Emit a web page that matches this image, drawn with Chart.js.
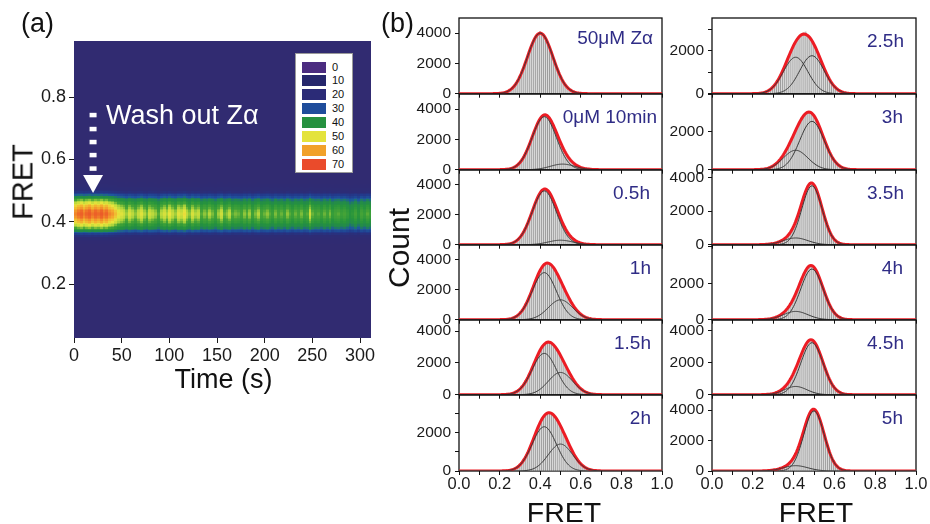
<!DOCTYPE html>
<html><head><meta charset="utf-8"><title>FRET histograms</title>
<script src="https://cdn.jsdelivr.net/npm/chart.js@4.4.1/dist/chart.umd.min.js"></script>
<style>
html,body{margin:0;padding:0;background:#fff;}
body{position:relative;width:930px;height:524px;overflow:hidden;font-family:"Liberation Sans",Arial,sans-serif;}
canvas{position:absolute;left:0;top:0;}
.t{position:absolute;white-space:nowrap;line-height:1;z-index:3;color:#111;}
.rot{transform:translate(-50%,-50%) rotate(-90deg);}
.ann{color:#2f2c86;font-size:19px;}
#legend{position:absolute;left:295px;top:53px;width:58px;height:120px;box-sizing:border-box;border:1px solid #9a9a9a;background:#fff;z-index:3;}
#legend .sw{position:absolute;left:6px;width:24px;height:11px;}
#legend .lb{position:absolute;left:36px;font-size:11px;line-height:11px;color:#111;}
</style></head><body>
<script>
// ---------------- DATA ----------------
// (a) heat map: band intensity per 3 s column and relative FRET profile of the band
const heatColumnSeconds = 3;
const heatPeak = [66,69,71,67,70,72,68,71,69,72,68,70,66,64,
  60,56,54,
  52,48,53,50,47,51,54,49,46,52,50,48,44,
  50,53,49,55,51,48,54,52,56,50,47,53,49,51,
  44,47,45,49,46,43,48,52,45,47,50,44,46,
  45,43,47,44,48,42,46,49,43,45,47,44,41,
  46,43,45,42,47,44,41,45,43,46,42,44,52,
  45,43,44,41,45,42,46,40,43,44,41,43,40,
  36,38,42,37,43,40,44,41];
const heatFretStart = 0.320, heatFretStep = 0.005;
const heatProfile = [.01,.01,.02,.03,.04,.06,.10,.16,.25,.36,.47,.57,.65,.71,.76,.81,.86,.90,.94,.97,.99,
  1.00,.99,.97,.94,.90,.86,.81,.76,.71,.65,.57,.47,.37,.27,.19,.14,.11,.09,.07,.06,.05,.04];
const heatLevels = [0,10,20,30,40,50,60,70];
const heatLevelColors = ['#4b2c80','#26276c','#2b2b77','#1f4d9b','#25913f','#e4e33b','#f1a12a','#ea4b2b'];
const heatXTicks = [0,50,100,150,200,250,300];
const heatYTicks = [0.2,0.4,0.6,0.8];
const washTime = 20;

// (b) FRET histograms, bins of 0.01 centred at 0.20 ... 0.66
const binStart = 0.20, binStep = 0.01;
const hist50uM    = [30,45,64,110,152,240,330,490,640,880,1150,1420,1810,2130,2580,2890,3300,3540,3850,3930,4120,3900,3840,3530,3300,2880,2570,2130,1800,1420,1150,860,660,470,345,230,162,100,70,40,28,15,9,5,3,2,1];
const hist0uM10min= [5,8,14,25,37,66,96,160,225,345,465,660,860,1150,1430,1800,2120,2520,2810,3160,3360,3560,3720,3580,3520,3290,3080,2740,2470,2100,1820,1490,1250,990,810,620,500,370,290,210,162,112,85,56,40,25,17];
const hist05h     = [4,9,13,26,38,68,98,165,230,352,480,690,880,1190,1470,1860,2180,2600,2900,3260,3460,3690,3760,3680,3610,3360,3150,2780,2490,2100,1800,1440,1200,920,740,545,425,300,232,158,118,78,56,36,25,15,10];
const hist1h      = [4,7,13,20,37,55,94,135,215,300,440,590,815,1030,1350,1630,2020,2330,2730,3000,3340,3520,3730,3760,3830,3690,3610,3380,3190,2880,2650,2310,2060,1740,1510,1230,1030,800,645,480,372,262,195,130,92,58,40];
const hist15h     = [3,7,10,18,27,50,70,120,168,260,350,505,650,890,1090,1400,1640,2000,2250,2590,2780,3060,3150,3330,3400,3310,3180,3100,2870,2720,2450,2250,1950,1740,1460,1250,1005,835,640,510,372,282,195,143,93,64,40];
const hist2h      = [3,6,9,16,24,44,64,106,148,230,310,445,580,790,970,1250,1470,1780,2010,2320,2500,2760,2850,3010,3060,3000,2990,2830,2740,2520,2370,2100,1920,1640,1450,1190,1015,795,650,490,380,272,200,136,96,62,41];
const hist25h     = [4,7,12,18,33,47,78,110,170,230,335,430,595,740,950,1130,1390,1580,1850,2030,2280,2400,2600,2660,2790,2850,2900,2680,2620,2450,2310,2080,1890,1630,1420,1170,980,765,610,455,345,240,175,115,80,50,32];
const hist3h      = [2,4,8,10,20,27,48,68,108,145,215,278,390,485,650,775,990,1150,1410,1590,1870,2050,2340,2500,2750,2850,3010,3020,3090,2950,2880,2650,2470,2170,1930,1600,1360,1060,865,635,490,345,252,165,114,71,47];
const hist35h     = [1,2,3,5,7,12,17,28,36,56,72,108,138,190,236,318,395,525,655,865,1070,1390,1690,2100,2450,2890,3180,3510,3600,3720,3530,3360,2970,2620,2140,1750,1310,1000,690,485,310,200,118,70,38,22,11];
const hist4h      = [1,2,3,5,9,12,21,29,45,64,95,122,175,222,305,378,500,610,790,950,1190,1400,1700,1940,2260,2470,2750,2860,3000,2940,2900,2690,2500,2170,1900,1540,1270,960,745,530,385,255,172,106,70,39,23];
const hist45h     = [1,1,1,2,4,8,12,22,30,55,75,118,158,230,300,420,530,710,870,1120,1340,1660,1930,2300,2570,2920,3100,3380,3410,3470,3300,3160,2840,2570,2160,1830,1440,1150,840,630,435,305,195,130,78,48,27];
const hist5h      = [1,1,2,4,7,9,16,22,35,45,68,85,122,150,205,250,330,405,540,670,890,1120,1460,1790,2260,2650,3140,3480,3860,3980,4120,3940,3740,3310,2930,2400,1960,1470,1120,775,545,345,225,130,80,42,24];

// Gaussian fit components [amplitude, centre FRET, sigma]
const fit50uM     = [[4000,0.40,0.063]];
const fit0uM10min = [[3500,0.42,0.06],[370,0.51,0.06]];
const fit05h      = [[3600,0.42,0.06],[300,0.50,0.06]];
const fit1h       = [[3150,0.42,0.06],[1330,0.50,0.06]];
const fit15h      = [[2600,0.42,0.06],[1400,0.50,0.06]];
const fit2h       = [[2300,0.42,0.06],[1400,0.50,0.06]];
const fit25h      = [[1700,0.41,0.06],[1770,0.49,0.06]];
const fit3h       = [[2560,0.49,0.06],[1030,0.41,0.06]];
const fit35h      = [[3500,0.49,0.05],[400,0.41,0.06]];
const fit4h       = [[2780,0.49,0.055],[455,0.41,0.06]];
const fit45h      = [[3250,0.49,0.055],[515,0.41,0.055]];
const fit5h       = [[3950,0.50,0.05],[350,0.41,0.06]];

const panelNames = ['50μM Zα','0μM 10min','0.5h','1h','1.5h','2h','2.5h','3h','3.5h','4h','4.5h','5h'];
const panelYMax  = [5000,5000,5000,5000,4700,3950,3530,4010,4440,4100,4670,5000];
const histXTicks = [0,0.1,0.2,0.3,0.4,0.5,0.6,0.7,0.8,0.9,1.0];
const histYTicks = [0,1000,2000,3000,4000,5000];

const histAll = [hist50uM,hist0uM10min,hist05h,hist1h,hist15h,hist2h,hist25h,hist3h,hist35h,hist4h,hist45h,hist5h];
const fitAll  = [fit50uM,fit0uM10min,fit05h,fit1h,fit15h,fit2h,fit25h,fit3h,fit35h,fit4h,fit45h,fit5h];

// ---------------- RENDERING ----------------
const FONT = '"Liberation Sans", Arial, sans-serif';
Chart.defaults.font.family = FONT;
Chart.defaults.color = '#1a1a1a';

function addEl(tag, cls, text, style){
  const e = document.createElement(tag);
  if (cls) e.className = cls;
  if (text !== undefined) e.textContent = text;
  Object.assign(e.style, style || {});
  document.body.appendChild(e);
  return e;
}
function newCanvas(w,h){
  const c = document.createElement('canvas');
  c.width = w; c.height = h;
  document.body.appendChild(c);
  return c;
}
function fitArea(chart, left, top, width, height){
  for (let k=0;k<4;k++){
    const a = chart.chartArea;
    const dw = Math.round(width - (a.right - a.left));
    const dh = Math.round(height - (a.bottom - a.top));
    if (!dw && !dh) break;
    chart.resize(chart.width + dw, chart.height + dh);
  }
  const a = chart.chartArea;
  chart.canvas.style.left = (left - a.left) + 'px';
  chart.canvas.style.top = (top - a.top) + 'px';
}

// ---- (a) heat map ----
const cmapStops = [[0,[49,43,113]],[8,[44,44,118]],[16,[34,58,140]],[24,[30,88,158]],[30,[34,135,78]],[36,[38,148,60]],
  [43,[68,163,55]],[49,[180,215,60]],[55,[232,228,60]],[62,[243,170,45]],[69,[238,105,40]],[78,[228,64,40]]];
function cmap(v){
  if (v <= cmapStops[0][0]) return 'rgb(' + cmapStops[0][1].join(',') + ')';
  for (let i=1;i<cmapStops.length;i++){
    if (v <= cmapStops[i][0]){
      const [a0,c0] = cmapStops[i-1], [a1,c1] = cmapStops[i];
      const f = (v-a0)/(a1-a0);
      return 'rgb(' + c0.map((c,j)=>Math.round(c + (c1[j]-c)*f)).join(',') + ')';
    }
  }
  return 'rgb(' + cmapStops[cmapStops.length-1][1].join(',') + ')';
}
const heatCells = [];
heatPeak.forEach((p,ci)=>{
  heatProfile.forEach((w,ri)=>{
    heatCells.push({x: ci*heatColumnSeconds, y: +(heatFretStart + ri*heatFretStep).toFixed(3), v: p*w});
  });
});

const heatPlugin = {
  id:'heat',
  beforeDatasetsDraw(chart){
    const {ctx, chartArea:a, scales:{x,y}} = chart;
    ctx.save();
    ctx.beginPath(); ctx.rect(a.left,a.top,a.right-a.left,a.bottom-a.top); ctx.clip();
    ctx.fillStyle = cmap(0);
    ctx.fillRect(a.left,a.top,a.right-a.left,a.bottom-a.top);
    for (const c of chart.data.datasets[0].data){
      const x0 = Math.round(x.getPixelForValue(c.x)), x1 = Math.round(x.getPixelForValue(c.x + heatColumnSeconds));
      const y0 = Math.round(y.getPixelForValue(c.y + heatFretStep/2)), y1 = Math.round(y.getPixelForValue(c.y - heatFretStep/2));
      ctx.fillStyle = cmap(c.v);
      ctx.fillRect(x0, y0, x1-x0, y1-y0);
    }
    ctx.restore();
  },
  afterDatasetsDraw(chart){
    // dotted "wash out" arrow
    const {ctx, scales:{x,y}} = chart;
    const ax = x.getPixelForValue(washTime);
    ctx.save();
    ctx.fillStyle = '#ffffff';
    [0.7425,0.6976,0.6559,0.6141,0.5708].forEach(f=>{
      const py = y.getPixelForValue(f);
      ctx.fillRect(ax-3.5, py-2.2, 7, 4.5);
    });
    const base = y.getPixelForValue(0.55), tip = y.getPixelForValue(0.492);
    ctx.beginPath(); ctx.moveTo(ax-10, base); ctx.lineTo(ax+10, base); ctx.lineTo(ax, tip); ctx.closePath(); ctx.fill();
    ctx.restore();
  }
};

const heatCanvas = newCanvas(390, 390);
const heatChart = new Chart(heatCanvas, {
  type:'scatter',
  data:{datasets:[{data: heatCells, pointRadius:0, pointHoverRadius:0, showLine:false}]},
  options:{
    animation:false, responsive:false, maintainAspectRatio:false, events:[],
    layout:{padding:{top:14,right:16,left:0,bottom:0}},
    plugins:{legend:{display:false}, tooltip:{enabled:false}},
    scales:{
      x:{type:'linear', min:0, max:311.5,
        afterBuildTicks: s=>{ s.ticks = heatXTicks.map(v=>({value:v})); },
        ticks:{font:{size:18}, color:'#1a1a1a', padding:2, maxRotation:0, autoSkip:false, callback:v=>String(v)},
        grid:{drawOnChartArea:false, drawTicks:true, tickLength:5, color:'#1a1a1a'}, border:{display:false},
        afterFit: s=>{ s.height = 30; }},
      y:{type:'linear', min:0.027, max:0.98,
        afterBuildTicks: s=>{ s.ticks = heatYTicks.map(v=>({value:v})); },
        ticks:{font:{size:18}, color:'#1a1a1a', padding:3, callback:v=>Number(v).toFixed(1)},
        grid:{drawOnChartArea:false, drawTicks:true, tickLength:5, color:'#1a1a1a'}, border:{display:false},
        afterFit: s=>{ s.width = 74; }}
    }
  },
  plugins:[heatPlugin]
});
fitArea(heatChart, 74, 41, 297, 297);

// legend of heat map
const leg = document.createElement('div'); leg.id='legend'; document.body.appendChild(leg);
heatLevels.forEach((lv,i)=>{
  const sw = document.createElement('div'); sw.className='sw';
  sw.style.top = (7.5 + i*13.9) + 'px'; sw.style.background = heatLevelColors[i];
  leg.appendChild(sw);
  const lb = document.createElement('div'); lb.className='lb'; lb.textContent = String(lv);
  lb.style.top = (7.5 + i*13.9) + 'px';
  leg.appendChild(lb);
});

// ---- (b) histograms ----
const fitX = Array.from({length:201},(_,k)=>k/200);
const gauss = (x,[A,m,s]) => A*Math.exp(-((x-m)*(x-m))/(2*s*s));
const frameBehind = {
  id:'frame',
  beforeDatasetsDraw(chart){
    const {ctx, chartArea:a} = chart;
    ctx.save(); ctx.strokeStyle='#111'; ctx.lineWidth=1.3;
    ctx.strokeRect(a.left, a.top, a.right-a.left, a.bottom-a.top);
    ctx.restore();
  }
};
const colLeft = [459, 712], colWidth = [203, 204];
const rowTops = [18, 94, 170, 245, 320, 395, 471];
const annRight = [653,657,650,651,651,651,904,903,904,903,904,903];

histAll.forEach((counts, i)=>{
  const col = i < 6 ? 0 : 1, row = i % 6;
  const isBottom = row === 5;
  const ymax = panelYMax[i];
  const fits = fitAll[i];
  const bars = counts.map((c,k)=>({x: +(binStart + k*binStep).toFixed(2), y: c}));
  const total = fitX.map(x=>({x, y: fits.reduce((s,f)=>s+gauss(x,f),0)}));
  const datasets = [
    {type:'bar', data: bars, backgroundColor:'#dadada', borderColor:'#9c9c9c',
      borderWidth:{left:1,right:0,top:0,bottom:0}, barPercentage:1, categoryPercentage:1, order:3},
    {type:'line', data: total, borderColor:'#ec1c24', borderWidth:3, pointRadius:0, fill:false, tension:0, order:2}
  ];
  fits.forEach(f=>{
    datasets.push({type:'line', data: fitX.map(x=>({x, y: gauss(x,f)})), borderColor:'#3a3a3a', borderWidth:1,
      pointRadius:0, fill:false, tension:0, order:1});
  });
  const cv = newCanvas(290, 130);
  const ch = new Chart(cv, {
    type:'bar',
    data:{datasets},
    options:{
      animation:false, responsive:false, maintainAspectRatio:false, events:[],
      layout:{padding:{top:14,right:18,left:0,bottom:0}},
      plugins:{legend:{display:false}, tooltip:{enabled:false}},
      scales:{
        x:{type:'linear', min:0, max:1, offset:false,
          afterBuildTicks: s=>{ s.ticks = histXTicks.map(v=>({value:v})); },
          ticks:{font:{size:16.5}, color:'#1a1a1a', padding:0, maxRotation:0, autoSkip:false,
            callback:(v,idx)=> (isBottom && idx%2===0) ? Number(v).toFixed(1) : ''},
          grid:{offset:false, drawOnChartArea:false, drawTicks:true, tickLength:4, color:'#111'}, border:{display:false},
          afterFit: s=>{ s.height = isBottom ? 26 : 5; }},
        y:{type:'linear', min:0, max:ymax,
          afterBuildTicks: s=>{ s.ticks = histYTicks.filter(v=>v<=ymax).map(v=>({value:v})); },
          ticks:{font:{size:15.5}, color:'#1a1a1a', padding:4,
            callback:v=> (v%2000===0 && v <= ymax-150) ? String(v) : ''},
          grid:{drawOnChartArea:false, drawTicks:true, tickLength:4, color:'#111'}, border:{display:false},
          afterFit: s=>{ s.width = 60; }}
      }
    },
    plugins:[frameBehind]
  });
  const top = rowTops[row], h = rowTops[row+1] - rowTops[row];
  fitArea(ch, colLeft[col], top, colWidth[col], h);
  addEl('div','t ann', panelNames[i], {right:(930-annRight[i])+'px', top:(top + (i===0?10:13))+'px'});
});

// ---- texts ----
addEl('div','t','(a)',{left:'21px', top:'10px', fontSize:'27px'});
addEl('div','t','(b)',{left:'381px', top:'9.5px', fontSize:'27px'});
addEl('div','t','Wash out Zα',{left:'106px', top:'101.5px', fontSize:'27px', color:'#ffffff'});
addEl('div','t rot','FRET',{left:'23px', top:'182px', fontSize:'29px'});
addEl('div','t','Time (s)',{left:'223.5px', top:'366px', fontSize:'27px', transform:'translateX(-50%)'});
addEl('div','t rot','Count',{left:'398.5px', top:'248px', fontSize:'30px'});
addEl('div','t','FRET',{left:'564px', top:'498px', fontSize:'28.5px', transform:'translateX(-50%)'});
addEl('div','t','FRET',{left:'816px', top:'498px', fontSize:'28.5px', transform:'translateX(-50%)'});
</script>
</body></html>
